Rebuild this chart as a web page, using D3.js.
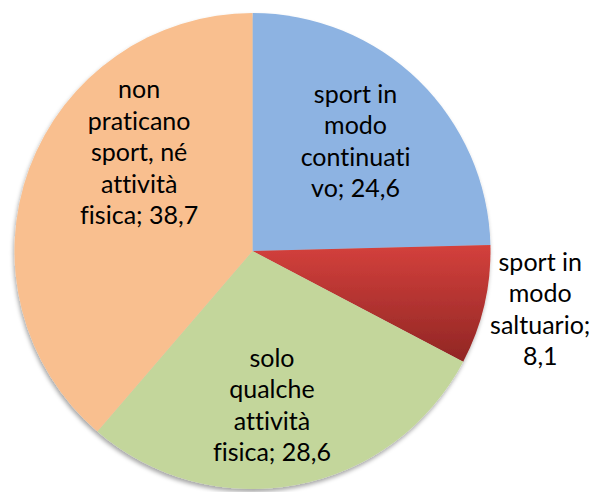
<!DOCTYPE html>
<html>
<head>
<meta charset="utf-8">
<script src="https://cdn.jsdelivr.net/npm/d3@7"></script>
<style>
  body { margin: 0; background: #fff; }
  svg text { font-family: Lato, "Open Sans", sans-serif; fill: #000; font-variant-ligatures: none; font-feature-settings: "liga" 0, "clig" 0; }
</style>
</head>
<body>
<div id="chart"></div>
<script>
// data
var categories = ["sport in modo continuativo", "sport in modo saltuario", "solo qualche attività fisica", "non praticano sport, né attività fisica"]
var values = [24.6, 8.1, 28.6, 38.7]
var labelLines = [
    ["sport in", "modo", "continuati", "vo; 24,6"],
    ["sport in", "modo", "saltuario;", "8,1"],
    ["solo", "qualche", "attività", "fisica; 28,6"],
    ["non", "praticano", "sport, né", "attività", "fisica; 38,7"]
]
var colors = ["#8db3e2", "url(#redgrad)", "#c3d69b", "#f9bf8f"]

var width = 596, height = 492
var cx = 252.5, cy = 251, radius = 238
var lineH = 31.5

// label placement: radius factor along slice bisector plus a small nudge
var labelRadius = [0.62, 1.22, 0.66, 0.62]
var labelNudge = [[0, -4], [5, -8], [-10, 0], [25, -47]]

var svg = d3.select("#chart").append("svg")
    .attr("width", width).attr("height", height)

var defs = svg.append("defs")
// coords are local to the translated pie group
var grad = defs.append("linearGradient").attr("id", "redgrad")
    .attr("gradientUnits", "userSpaceOnUse")
    .attr("x1", 0).attr("y1", -5).attr("x2", 0).attr("y2", 115)
grad.append("stop").attr("offset", "0%").attr("stop-color", "#d3403c")
grad.append("stop").attr("offset", "100%").attr("stop-color", "#8e2523")

var shadow = defs.append("filter").attr("id", "shadow")
    .attr("x", "-10%").attr("y", "-10%").attr("width", "120%").attr("height", "120%")
shadow.append("feDropShadow")
    .attr("dx", -1).attr("dy", 3).attr("stdDeviation", 2)
    .attr("flood-color", "#000").attr("flood-opacity", 0.35)

var pie = d3.pie().sort(null).value(function(d){ return d })
var arcs = pie(values)

var arc = d3.arc().innerRadius(0).outerRadius(radius)

var g = svg.append("g").attr("transform", "translate(" + cx + "," + cy + ")")

g.append("g").attr("filter", "url(#shadow)")
    .selectAll("path")
    .data(arcs)
    .enter()
    .append("path")
    .attr("d", arc)
    .attr("fill", function(d, i){ return colors[i] })

var labels = g.selectAll(".lbl")
    .data(arcs)
    .enter()
    .append("text").attr("class", "lbl")
    .attr("text-anchor", "middle")
    .style("font-size", "25px")
    .attr("transform", function(d, i){
        var r = radius * labelRadius[i]
        var c = d3.arc().innerRadius(r).outerRadius(r).centroid(d)
        return "translate(" + (c[0] + labelNudge[i][0]) + "," + (c[1] + labelNudge[i][1]) + ")"
    })

labels.each(function(d, i){
    var lines = labelLines[i]
    var t = d3.select(this)
    lines.forEach(function(s, k){
        t.append("tspan")
            .attr("x", 0)
            .attr("y", (k - (lines.length - 1) / 2) * lineH)
            .attr("dy", "0.35em")
            .text(s)
    })
})
</script>
</body>
</html>
